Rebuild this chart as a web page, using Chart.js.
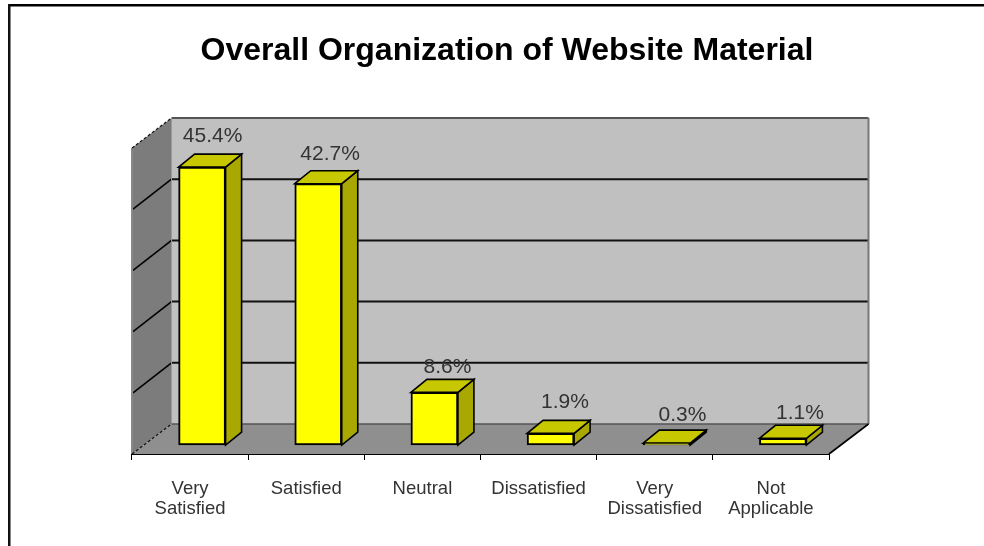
<!DOCTYPE html>
<html><head><meta charset="utf-8">
<style>html,body{margin:0;padding:0;background:#fff}#w{width:984px;height:546px;position:relative}</style>
<script src="https://cdn.jsdelivr.net/npm/chart.js@4"></script>
</head><body><div id="w"><canvas id="c"></canvas></div>
<script>
const categories = [['Very','Satisfied'],'Satisfied','Neutral','Dissatisfied',['Very','Dissatisfied'],['Not','Applicable']];
const percentages = [45.4,42.7,8.6,1.9,0.3,1.1];
const valueTicks = [0,10,20,30,40,50];
const chartTitle = 'Overall Organization of Website Material';

const WALL = {dx:39.5, dy:-30};
const BAR_SHIFT = {dx:12, dy:-9};
const BAR_DEPTH = {dx:16, dy:-13};
const LABEL_LIFT = [25,24,19,25.7,22.5,19.3];

function poly(ctx, pts, fill, stroke, lw, dash){
  ctx.beginPath();
  pts.forEach((p,i)=> i?ctx.lineTo(p[0],p[1]):ctx.moveTo(p[0],p[1]));
  ctx.closePath();
  if(fill){ctx.fillStyle=fill;ctx.fill();}
  if(stroke){ctx.strokeStyle=stroke;ctx.lineWidth=lw||1;ctx.setLineDash(dash||[]);ctx.stroke();ctx.setLineDash([]);}
}
function seg(ctx,a,b,stroke,lw,dash){
  ctx.beginPath();ctx.moveTo(a[0],a[1]);ctx.lineTo(b[0],b[1]);
  ctx.strokeStyle=stroke;ctx.lineWidth=lw;ctx.setLineDash(dash||[]);ctx.stroke();ctx.setLineDash([]);
}
const scene = {
  id:'scene',
  afterLayout(chart){
    const t=chart.titleBlock; t.left=30; t.right=984;
  },
  beforeDraw(chart){
    const c=chart.ctx;
    c.save();
    c.fillStyle='#000';
    c.fillRect(8,4,976,2.5);
    c.fillStyle='#111';
    c.fillRect(8,4,2.5,542);
    c.restore();
  },
  beforeDatasetsDraw(chart){
    const c=chart.ctx,a=chart.chartArea,y=chart.scales.y;
    const {dx,dy}=WALL;
    const L=a.left,R=a.right,T=y.getPixelForValue(50),B=y.getPixelForValue(0);
    c.save();
    poly(c,[[L+dx,T+dy],[R+dx,T+dy],[R+dx,B+dy],[L+dx,B+dy]],'#c0c0c0');
    poly(c,[[L,T],[L+dx,T+dy],[L+dx,B+dy],[L,B]],'#7c7c7c');
    poly(c,[[L,B],[L+dx,B+dy],[R+dx,B+dy],[R,B]],'#8f8f8f');
    valueTicks.slice(1,-1).forEach(v=>{
      const p=y.getPixelForValue(v);
      seg(c,[L+1,p],[L+dx,p+dy],'#000',1.6);
      seg(c,[L+dx,p+dy],[R+dx,p+dy],'#111',2);
    });
    seg(c,[L+dx,T+dy],[R+dx,T+dy],'#555',2);
    seg(c,[R+dx,T+dy],[R+dx,B+dy],'#777',2);
    seg(c,[L+dx,T+dy],[L+dx,B+dy],'#999',1);
    seg(c,[L+dx,B+dy],[R+dx,B+dy],'#555',1.5);
    seg(c,[L,T],[L,B],'#888',2);
    seg(c,[L,T],[L+dx,T+dy],'#111',1.2,[3,2]);
    seg(c,[L,B],[L+dx,B+dy],'#111',1.2,[3,2]);
    seg(c,[R,B],[R+dx,B+dy],'#000',1.6);
    c.restore();
  },
  beforeDatasetDraw(chart,args){
    const c=chart.ctx;
    c.save();
    c.translate(BAR_SHIFT.dx,BAR_SHIFT.dy);
    const {dx,dy}=BAR_DEPTH;
    args.meta.data.forEach(bar=>{
      const {x,y,base,width}=bar.getProps(['x','y','base','width'],true);
      const l=x-width/2,r=x+width/2;
      poly(c,[[r,y],[r+dx,y+dy],[r+dx,base+dy],[r,base]],'#a8a800','#000',1.6);
      poly(c,[[l,y],[l+dx,y+dy],[r+dx,y+dy],[r,y]],'#c8c800','#000',1.6);
    });
  },
  afterDatasetDraw(chart){ chart.ctx.restore(); },
  afterDatasetsDraw(chart){
    const c=chart.ctx,meta=chart.getDatasetMeta(0);
    c.save();
    c.font='21px "Liberation Sans"';
    c.fillStyle='#333';
    c.textAlign='center';c.textBaseline='alphabetic';
    meta.data.forEach((bar,i)=>{
      const v=percentages[i];
      c.fillText(v.toFixed(1)+'%', bar.x+BAR_SHIFT.dx+10.5+1.3*i, bar.y+BAR_SHIFT.dy-LABEL_LIFT[i]);
    });
    c.restore();
  }
};
new Chart(document.getElementById('c'),{
  type:'bar',
  data:{labels:categories,datasets:[{data:percentages,backgroundColor:'#ffff00',borderColor:'#000',borderWidth:2,borderSkipped:false,barThickness:47,clip:false}]},
  plugins:[scene],
  options:{
    responsive:true,maintainAspectRatio:false,animation:false,
    layout:{padding:{left:132,right:155,top:32,bottom:0}},
    plugins:{
      legend:{display:false},tooltip:{enabled:false},
      title:{display:true,text:chartTitle,color:'#000',font:{family:'"Liberation Sans"',size:32,weight:'bold',lineHeight:1.2},padding:{top:0,bottom:77.6}}
    },
    scales:{
      x:{
        afterFit(s){s.height=92;},
        grid:{offset:true,drawOnChartArea:false,drawTicks:true,tickLength:6,color:'#000'},
        border:{display:true,color:'#000',width:2},
        ticks:{color:'#333',padding:19,maxRotation:0,autoSkip:false,font:{family:'"Liberation Sans"',size:18.5,lineHeight:1.08}}
      },
      y:{display:false,min:0,max:50,ticks:{stepSize:10}}
    }
  }
});
</script></body></html>
